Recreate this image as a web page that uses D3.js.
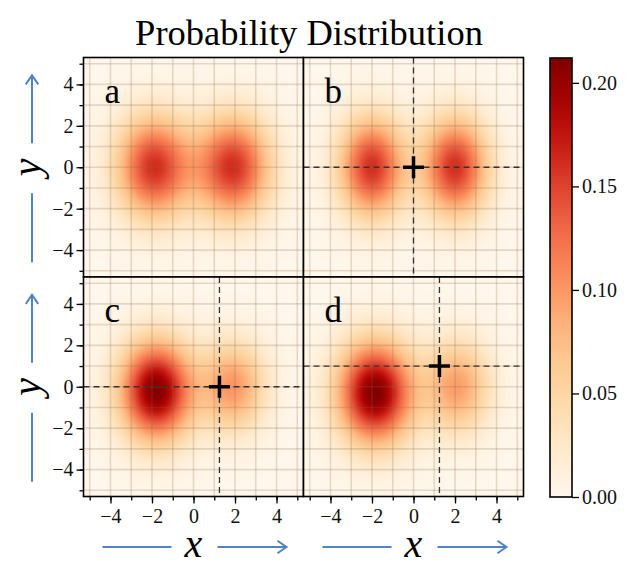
<!DOCTYPE html>
<html>
<head>
<meta charset="utf-8">
<script src="https://cdn.jsdelivr.net/npm/d3@7"></script>
<style>
  body { margin: 0; background: #fff; }
  text { font-family: "Liberation Serif", "Times New Roman", serif; }
</style>
</head>
<body>
<script>
const width = 643;
const height = 565;

// panels a-d, each a sum of two gaussian bumps
const panelNames = ["a", "b", "c", "d"];
const peakX = [[-1.9, 1.9], [-2.0, 2.0], [-1.8, 1.9], [-1.85, 2.1]];
const peakY = [[0, 0], [0, 0], [-0.2, 0], [-0.3, 0]];
const peakHeight = [[0.16, 0.16], [0.16, 0.16], [0.21, 0.1], [0.212, 0.095]];
const sigmaX = [[1.25, 1.25], [1.1, 1.1], [1.2, 1.1], [1.25, 1.1]];
const sigmaY = [[1.7, 1.7], [1.65, 1.65], [1.65, 1.5], [1.7, 1.55]];
// measurement marker (+) per panel
const markX = [null, 0, 1.25, 1.25];
const markY = [null, 0, 0, 1];

const axisTicks = [-4, -2, 0, 2, 4];
const minorTicks = d3.range(-5, 6);
const colorTicks = [0, 0.05, 0.1, 0.15, 0.2];
const vmax = 0.212;

const marginLeft = 83.5, marginTop = 57.5, pw = 220, ph = 219.5;
const blue = "#4f83c2";

const x = d3.scaleLinear().domain([-5.3, 5.3]).range([0, pw]);
const y = d3.scaleLinear().domain([-5.3, 5.3]).range([ph, 0]);
const color = d3.scaleSequential(d3.interpolateOrRd).domain([0, vmax]);

const svg = d3.select("body").append("svg")
  .attr("width", width)
  .attr("height", height);

function density(i, xv, yv) {
  let s = 0;
  for (let k = 0; k < peakX[i].length; k++) {
    const dx = (xv - peakX[i][k]) / sigmaX[i][k];
    const dy = (yv - peakY[i][k]) / sigmaY[i][k];
    s += peakHeight[i][k] * Math.exp(-0.5 * (dx * dx + dy * dy));
  }
  return s;
}

function heatmapURL(i) {
  const w = Math.round(pw), h = Math.round(ph);
  const canvas = document.createElement("canvas");
  canvas.width = w;
  canvas.height = h;
  const ctx = canvas.getContext("2d");
  const img = ctx.createImageData(w, h);
  for (let r = 0; r < h; r++) {
    for (let c = 0; c < w; c++) {
      const v = density(i, x.invert(c + 0.5), y.invert((r + 0.5) * ph / h));
      const col = d3.rgb(color(Math.min(v, vmax)));
      const p = (r * w + c) * 4;
      img.data[p] = col.r;
      img.data[p + 1] = col.g;
      img.data[p + 2] = col.b;
      img.data[p + 3] = 255;
    }
  }
  ctx.putImageData(img, 0, 0);
  return canvas.toDataURL();
}

function styleAxis(g) {
  g.select(".domain").remove();
  g.selectAll("line").attr("stroke", "#000").attr("stroke-width", 1.3);
  g.selectAll("text")
    .attr("font-size", 20)
    .attr("font-family", "'Liberation Serif', 'Times New Roman', serif")
    .attr("fill", "#111");
}

panelNames.forEach((name, i) => {
  const col = i % 2, row = Math.floor(i / 2);
  const g = svg.append("g")
    .attr("transform", `translate(${marginLeft + col * pw},${marginTop + row * ph})`);

  g.append("image")
    .attr("href", heatmapURL(i))
    .attr("width", pw)
    .attr("height", ph)
    .attr("preserveAspectRatio", "none");

  // light grid over the image
  g.append("g").selectAll("line")
    .data(minorTicks).join("line")
    .attr("x1", d => x(d)).attr("x2", d => x(d))
    .attr("y1", 0).attr("y2", ph)
    .attr("stroke", "#8a6a48").attr("stroke-opacity", 0.22).attr("stroke-width", 1.6);
  g.append("g").selectAll("line")
    .data(minorTicks).join("line")
    .attr("y1", d => y(d)).attr("y2", d => y(d))
    .attr("x1", 0).attr("x2", pw)
    .attr("stroke", "#8a6a48").attr("stroke-opacity", 0.22).attr("stroke-width", 1.6);

  if (markX[i] !== null) {
    g.append("line")
      .attr("x1", x(markX[i])).attr("x2", x(markX[i]))
      .attr("y1", 0).attr("y2", ph)
      .attr("stroke", "#333").attr("stroke-width", 1.3)
      .attr("stroke-dasharray", "6,4");
    g.append("line")
      .attr("x1", 0).attr("x2", pw)
      .attr("y1", y(markY[i])).attr("y2", y(markY[i]))
      .attr("stroke", "#333").attr("stroke-width", 1.3)
      .attr("stroke-dasharray", "6,4");
    const cx = x(markX[i]), cy = y(markY[i]);
    g.append("path")
      .attr("d", `M${cx - 10.5},${cy}H${cx + 10.5}M${cx},${cy - 11}V${cy + 11}`)
      .attr("stroke", "#000").attr("stroke-width", 3.5);
  }

  g.append("text")
    .attr("x", 21).attr("y", 45)
    .attr("font-size", 35)
    .text(name);

  if (col === 0) {
    g.append("g").call(d3.axisLeft(y).tickValues(minorTicks).tickSize(4).tickFormat(""))
      .call(styleAxis);
    g.append("g").call(d3.axisLeft(y).tickValues(axisTicks).tickSize(7).tickPadding(3))
      .call(styleAxis);
  }
  if (row === 1) {
    g.append("g").attr("transform", `translate(0,${ph})`)
      .call(d3.axisBottom(x).tickValues(minorTicks).tickSize(4).tickFormat(""))
      .call(styleAxis);
    g.append("g").attr("transform", `translate(0,${ph})`)
      .call(d3.axisBottom(x).tickValues(axisTicks).tickSize(7).tickPadding(5))
      .call(styleAxis);
  }

  g.append("rect")
    .attr("width", pw).attr("height", ph)
    .attr("fill", "none").attr("stroke", "#000").attr("stroke-width", 1.6);
});

// blue arrow helpers
function arrowSeg(x1, y1, x2, y2, head) {
  const p = d3.path();
  p.moveTo(x1, y1);
  p.lineTo(x2, y2);
  if (head) {
    const a = Math.atan2(y2 - y1, x2 - x1);
    const L = 11, spread = 0.6;
    p.moveTo(x2 - L * Math.cos(a - spread), y2 - L * Math.sin(a - spread));
    p.lineTo(x2, y2);
    p.lineTo(x2 - L * Math.cos(a + spread), y2 - L * Math.sin(a + spread));
  }
  svg.append("path").attr("d", p.toString())
    .attr("fill", "none").attr("stroke", blue).attr("stroke-width", 2);
}

// x labels under the bottom panels
[0, 1].forEach(col => {
  const cx = marginLeft + col * pw + x(0);
  const ay = 547;
  arrowSeg(cx - 91, ay, cx - 22, ay, false);
  arrowSeg(cx + 24, ay, cx + 93, ay, true);
  svg.append("text")
    .attr("x", cx).attr("y", 557)
    .attr("text-anchor", "middle")
    .attr("font-size", 40).attr("font-style", "italic")
    .text("x");
});

// y labels beside the left panels
[0, 1].forEach(row => {
  const cy = marginTop + row * ph + y(0);
  const ax = 32;
  arrowSeg(ax, cy + 95, ax, cy + 26, false);
  arrowSeg(ax, cy - 24, ax, cy - 92, true);
  svg.append("text")
    .attr("transform", `translate(40,${cy}) rotate(-90)`)
    .attr("text-anchor", "middle")
    .attr("font-size", 40).attr("font-style", "italic")
    .text("y");
});

// colorbar
const cbX = 550, cbW = 22, cbTop = 58, cbBottom = 497;
const cb = d3.scaleLinear().domain([0, vmax]).range([cbBottom, cbTop]);
const grad = svg.append("defs").append("linearGradient")
  .attr("id", "cbgrad").attr("x1", 0).attr("x2", 0).attr("y1", 1).attr("y2", 0);
grad.selectAll("stop").data(d3.range(0, 1.0001, 0.05)).join("stop")
  .attr("offset", d => d)
  .attr("stop-color", d => color(d * vmax));
svg.append("rect")
  .attr("x", cbX).attr("y", cbTop)
  .attr("width", cbW).attr("height", cbBottom - cbTop)
  .attr("fill", "url(#cbgrad)")
  .attr("stroke", "#000").attr("stroke-width", 1.6);
svg.append("g").attr("transform", `translate(${cbX + cbW},0)`)
  .call(d3.axisRight(cb).tickValues(colorTicks).tickFormat(d3.format(".2f")).tickSize(7).tickPadding(3))
  .call(styleAxis);

// title
svg.append("text")
  .attr("x", 309).attr("y", 45)
  .attr("text-anchor", "middle")
  .attr("font-size", 36.5)
  .text("Probability Distribution");
</script>
</body>
</html>
